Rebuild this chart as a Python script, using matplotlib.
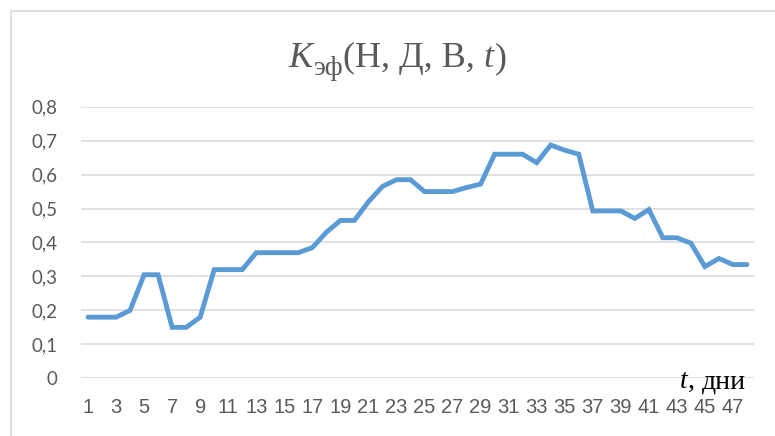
import numpy as np
import matplotlib
matplotlib.use("Agg")
import matplotlib.pyplot as plt
from matplotlib.patches import Rectangle
from matplotlib import font_manager

# days and K_eff values
days = list(range(1, 49))
k_eff = [0.18, 0.18, 0.18, 0.20, 0.305, 0.305, 0.15, 0.15, 0.18, 0.32,
         0.32, 0.32, 0.37, 0.37, 0.37, 0.37, 0.385, 0.43, 0.465, 0.465,
         0.52, 0.565, 0.585, 0.585, 0.55, 0.55, 0.55, 0.562, 0.572, 0.66,
         0.66, 0.66, 0.635, 0.687, 0.672, 0.66, 0.493, 0.493, 0.493, 0.471,
         0.497, 0.414, 0.414, 0.398, 0.329, 0.353, 0.335, 0.335]
y_ticks = [0, 0.1, 0.2, 0.3, 0.4, 0.5, 0.6, 0.7, 0.8]
x_ticks = list(range(1, 49, 2))


def has_font(name):
    try:
        font_manager.findfont(name, fallback_to_default=False)
        return True
    except ValueError:
        return False


# a narrow face fits the crowded day labels best
if has_font('Liberation Sans Narrow'):
    xfont, xsize = 'Liberation Sans Narrow', 15
else:
    xfont, xsize = 'Liberation Sans', 14.5
serif = 'Liberation Serif'
grey = '#595959'

W, H = 775, 436
fig = plt.figure(figsize=(W / 100, H / 100), dpi=100)

# chart border (cut off at right and bottom in the original)
fig.patches.append(Rectangle((11 / W, -0.2), 1.2, 1 - 11 / H + 0.2,
                             transform=fig.transFigure, fill=False,
                             edgecolor='#d9d9d9', linewidth=1.2))

ax = fig.add_axes([81 / W, (H - 378.3) / H, 673 / W, (378.3 - 106.7) / H])
ax.plot(days, k_eff, color='#5b9bd5', linewidth=3.5, solid_capstyle='round',
        solid_joinstyle='miter', zorder=3)

ax.set_xlim(0.5, 48.5)
ax.set_ylim(0, 0.8)
ax.set_yticks(y_ticks)
ax.set_yticklabels([f"{v:g}".replace('.', ',') for v in y_ticks],
                   fontfamily=['Lato', 'DejaVu Sans'], fontsize=13.5)
ax.set_xticks(x_ticks)
ax.set_xticklabels([str(v) for v in x_ticks], fontfamily=[xfont, 'DejaVu Sans'],
                   fontsize=xsize)
ax.grid(axis='y', color='#d9d9d9', linewidth=1.1)
ax.set_axisbelow(True)
for s in ax.spines.values():
    s.set_visible(False)
ax.tick_params(axis='both', length=0, colors=grey)
ax.tick_params(axis='y', pad=17)
ax.tick_params(axis='x', pad=14)

# title  K_эф(Н, Д, В, t)  assembled piece by piece
pieces = [('K', 26, 'italic', 0), ('эф', 20, 'normal', -8),
          ('(Н, Д, В, ', 26, 'normal', 0), ('t', 26, 'italic', 0),
          (')', 26, 'normal', 0)]
renderer = fig.canvas.get_renderer()
x = 288
base = 67
for txt, size, style, dy in pieces:
    t = fig.text(x / W, 1 - (base - dy) / H, txt, family=serif, style=style,
                 fontsize=size, color=grey, ha='left', va='baseline')
    x = t.get_window_extent(renderer).x1 + (1 if style == 'italic' else 0)

# axis label "t, дни" at the right end of the axis
lx = 746
t1 = fig.text(lx / W, 1 - 388 / H, 'дни', family=serif, fontsize=20,
              color='black', ha='right', va='baseline')
x0 = t1.get_window_extent(renderer).x0
t2 = fig.text(x0 / W, 1 - 388 / H, ', ', family=serif, fontsize=20,
              color='black', ha='right', va='baseline')
x0 = t2.get_window_extent(renderer).x0
fig.text(x0 / W, 1 - 388 / H, 't', family=serif, style='italic', fontsize=20,
         color='black', ha='right', va='baseline')

fig.savefig('out.png', dpi=100)
